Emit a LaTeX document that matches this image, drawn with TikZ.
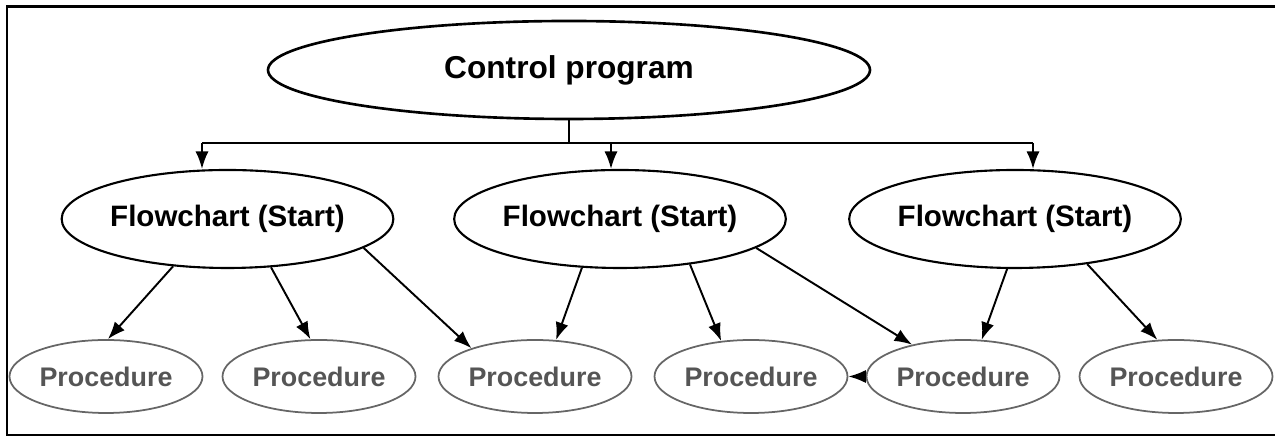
\documentclass[tikz,border=0pt]{standalone}
\usepackage{fontspec}
\setmainfont{Liberation Sans}
\usepackage{tikz}
\usepackage{xcolor}
\usetikzlibrary{arrows.meta}
\usetikzlibrary{shapes.geometric}

\definecolor{procgray}{HTML}{555555}
\definecolor{procline}{HTML}{666666}

\begin{document}
\begin{tikzpicture}[
		ctrl/.style={draw, ellipse, line width=1.5pt, inner sep=0pt, minimum width=12.04cm, minimum height=1.96cm, font=\fontsize{18}{20}\selectfont\bfseries},
		chart/.style={draw, ellipse, line width=1.2pt, inner sep=0pt, minimum width=6.3cm, minimum height=1.96cm, font=\fontsize{16.8}{19}\selectfont\bfseries},
		proc/.style={draw=procline, ellipse, line width=1pt, inner sep=0pt, minimum width=3.86cm, minimum height=1.46cm, text=procgray, font=\fontsize{15.3}{17}\selectfont\bfseries},
		link/.style={-{Latex[length=10pt, width=7.5pt]}, line width=1.1pt}]
				\useasboundingbox (0,0) rectangle (25.5,8.76);
				\draw[line width=1.7pt] (25.5,8.62) -- (0.14,8.62) -- (0.14,0.06) -- (25.5,0.06);
				\node[ctrl] (ctrl) at (11.38, 7.36) {Control program};
				\node[chart] (fc1) at ( 4.55, 4.38) {Flowchart (Start)};
				\node[chart] (fc2) at (12.40, 4.38) {Flowchart (Start)};
				\node[chart] (fc3) at (20.30, 4.38) {Flowchart (Start)};
				\node[proc] (p1) at ( 2.12, 1.23) {Procedure};
				\node[proc] (p2) at ( 6.38, 1.23) {Procedure};
				\node[proc] (p3) at (10.70, 1.23) {Procedure};
				\node[proc] (p4) at (15.02, 1.23) {Procedure};
				\node[proc] (p5) at (19.26, 1.23) {Procedure};
				\node[proc] (p6) at (23.52, 1.23) {Procedure};
				\coordinate (b1) at ( 4.04, 5.90);
				\coordinate (b2) at (12.22, 5.90);
				\coordinate (b3) at (20.66, 5.90);
				\draw[line width=1.1pt] (ctrl.south) -- (ctrl.south |- b1);
				\draw[line width=1.1pt] (b1) -- (b3);
				\draw[link] (b1) to (b1 |- fc1.north);
				\draw[link] (b2) to (b2 |- fc2.north);
				\draw[link] (b3) to (b3 |- fc3.north);
				\draw[link] (fc1.-139) to (p1.87);
				\draw[link] (fc1.-48) to (p2.103);
				\draw[link] (fc1.-12) to (p3.156);
				\draw[link] (fc2.-128) to (p3.60);
				\draw[link] (fc2.-33) to (p4.130);
				\draw[link] (fc2.-12) to (p5.148);
				\draw[link] (fc3.-99) to (p5.63);
				\draw[link] (fc3.-32) to (p6.117);
				\draw[link] (p5.west) to (p4.east);
			\end{tikzpicture}
\end{document}
